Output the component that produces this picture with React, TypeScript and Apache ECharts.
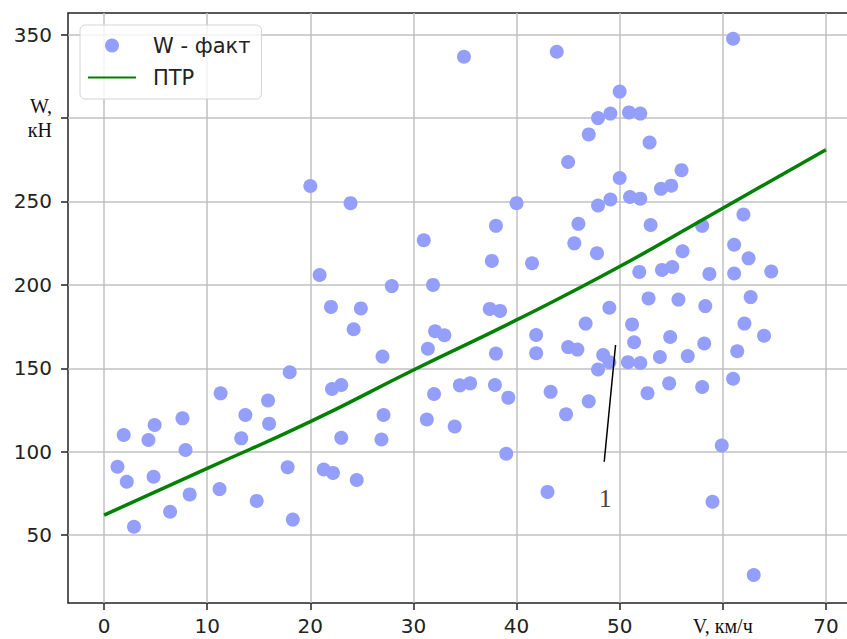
import React, { useEffect, useRef } from 'react';
import * as echarts from 'echarts';

// Speed V, km/h (measured points)
const vFact = [
  1.3, 1.9, 2.2, 2.9, 4.3, 4.9, 4.8, 6.4, 7.6, 7.9, 8.3, 11.3, 11.2, 13.3, 13.7, 14.8,
  15.9, 16.0, 17.8, 18.0, 18.3, 20.0, 20.9, 21.3, 22.2, 22.0, 22.1, 23.0, 23.0, 23.9,
  24.2, 24.5, 24.9, 27.0, 27.1, 26.9, 27.9, 31.0, 31.4, 31.3, 31.9, 32.1, 32.0, 33.0,
  34.0, 34.5, 34.9, 35.5, 37.4, 37.6, 37.9, 38.0, 38.0, 38.4, 39.0, 39.2, 40.0, 41.5,
  41.9, 41.9, 43.0, 43.3, 43.9, 44.8, 45.0, 45.0, 45.6, 45.9, 46.0, 46.7, 47.0, 47.0,
  47.8, 47.9, 47.9, 47.9, 48.4, 49.0, 49.1, 49.1, 49.0, 50.0, 50.0, 50.9, 51.0, 51.2,
  51.4, 50.8, 52.0, 51.9, 52.0, 52.0, 52.7, 52.8, 52.9, 53.0, 53.9, 54.0, 54.1, 54.9,
  54.8, 55.0, 55.1, 55.7, 56.0, 56.1, 56.6, 58.0, 58.0, 58.2, 58.3, 58.7, 59.0, 59.9,
  61.0, 61.0, 61.1, 61.1, 61.4, 62.0, 62.1, 62.5, 62.7, 63.0, 64.0, 64.7,
];
// Resistance W, kN (measured points)
const wFact = [
  91, 110, 82, 55, 107, 116, 85, 64, 120, 101, 74.4, 135, 77.6, 108, 122, 70.5,
  130.7, 116.8, 90.7, 147.6, 59.3, 259.3, 205.9, 89.3, 87.3, 186.8, 137.6, 140, 108.3, 249,
  173.4, 83, 185.9, 157, 122, 107.3, 199.3, 226.8, 161.7, 119.3, 200, 172.2, 134.6, 169.8,
  115.1, 139.8, 336.8, 141, 185.6, 214.4, 140, 235.4, 158.8, 184.4, 98.8, 132.4, 249, 213,
  170, 159, 75.9, 135.9, 339.8, 122.4, 273.7, 162.7, 224.9, 161.2, 236.6, 176.8, 130.2, 290.2,
  219, 300, 247.6, 149.3, 158, 186.3, 302.7, 251.2, 153.7, 315.9, 264.1, 303.4, 252.7, 176.3,
  165.6, 153.7, 302.7, 207.8, 251.7, 153.2, 135.1, 191.9, 285.4, 235.9, 156.8, 257.6, 209, 168.8,
  141, 259.5, 210.7, 191.2, 268.8, 220.2, 157.3, 138.8, 235.4, 164.9, 187.3, 206.6, 70, 103.7,
  347.6, 143.7, 206.8, 224.1, 160.2, 242.2, 176.8, 215.9, 192.7, 26.1, 169.5, 208,
];

// ПТР curve
const vLine = [0, 10, 20, 30, 40, 50, 60, 70];
const wLine = [62, 90, 118, 149, 179, 211, 246, 281];

const xTicks = [0, 10, 20, 30, 40, 50, 60, 70];
const yTicks = [50, 100, 150, 200, 250, 300, 350];

const xAxisName = 'V, км/ч';
const yAxisName = ['W,', 'кН'];
const legendFact = 'W - факт';
const legendLine = 'ПТР';

// leader line "1"
const pointerV = [48.5, 49.6];
const pointerW = [94, 164];
const pointerLabel = '1';
const pointerLabelAt = [48.6, 71.7];

export default function App() {
  const ref = useRef<HTMLDivElement>(null);

  useEffect(() => {
    if (!ref.current) return;
    const chart = echarts.init(ref.current, undefined, { renderer: 'svg' });
    const tickFont = 'DejaVu Sans';
    const serif = 'Liberation Serif';
    const option: any = {
      animation: false,
      backgroundColor: '#ffffff',
      grid: {
        left: 68,
        top: 13,
        width: 794,
        height: 590,
        show: true,
        borderColor: '#222',
        borderWidth: 1.5,
        backgroundColor: 'transparent',
      },
      xAxis: {
        type: 'value',
        min: -3.5,
        max: 73.5,
        axisLine: { show: false, onZero: false },
        axisTick: {
          show: true,
          customValues: xTicks,
          length: 7,
          lineStyle: { color: '#222', width: 1.5 },
        },
        axisLabel: {
          customValues: xTicks,
          margin: 13,
          fontSize: 20,
          color: '#222',
          fontFamily: tickFont,
          formatter: (v: number) => (v === 60 ? '{s|' + xAxisName + '}' : String(v)),
          rich: { s: { fontFamily: serif, fontSize: 20, color: '#111' } },
        },
        splitLine: { show: true, lineStyle: { color: '#c0c0c0', width: 1.5 } },
      },
      yAxis: {
        type: 'value',
        min: 9.3,
        max: 363,
        axisLine: { show: false, onZero: false },
        axisTick: {
          show: true,
          customValues: yTicks,
          length: 7,
          lineStyle: { color: '#222', width: 1.5 },
        },
        axisLabel: {
          customValues: yTicks,
          margin: 16,
          fontSize: 20,
          color: '#222',
          fontFamily: tickFont,
          formatter: (v: number) =>
            v === 300 ? '{s|' + yAxisName.join('\n') + '}' : String(v),
          rich: { s: { fontFamily: serif, fontSize: 20, lineHeight: 24, color: '#111', align: 'right' } },
        },
        splitLine: { show: true, lineStyle: { color: '#c0c0c0', width: 1.5 } },
      },
      legend: {
        left: 80,
        top: 25,
        orient: 'vertical',
        padding: [10, 11, 11, 7],
        itemWidth: 48,
        itemHeight: 14,
        itemGap: 11,
        backgroundColor: 'rgba(255,255,255,0.8)',
        borderColor: '#d4d4d4',
        borderWidth: 1,
        borderRadius: 5,
        textStyle: {
          fontSize: 21,
          lineHeight: 20,
          fontFamily: tickFont,
          color: '#222',
          padding: [0, 0, 0, 12],
        },
        data: [
          { name: legendFact, icon: 'circle' },
          { name: legendLine, itemStyle: { opacity: 0 } },
        ],
      },
      series: [
        {
          name: legendFact,
          type: 'scatter',
          data: vFact.map((v, i) => [v, wFact[i]]),
          symbolSize: 14,
          itemStyle: { color: '#939ffb', opacity: 1 },
          z: 3,
        },
        {
          name: legendLine,
          type: 'line',
          data: vLine.map((v, i) => [v, wLine[i]]),
          smooth: true,
          symbol: 'none',
          lineStyle: { color: '#008000', width: 3.5 },
          itemStyle: { color: '#008000' },
          z: 4,
        },
        {
          type: 'line',
          data: pointerV.map((v, i) => [v, pointerW[i]]),
          symbol: 'none',
          silent: true,
          lineStyle: { color: '#000', width: 1.5 },
          z: 5,
        },
        {
          type: 'scatter',
          data: [pointerLabelAt],
          symbolSize: 1,
          silent: true,
          itemStyle: { color: 'rgba(0,0,0,0)' },
          label: {
            show: true,
            position: 'inside',
            formatter: pointerLabel,
            fontFamily: serif,
            fontSize: 26,
            color: '#111',
          },
          z: 5,
        },
      ],
    };
    chart.setOption(option);
    return () => chart.dispose();
  }, []);

  return (
    <div
      style={{
        position: 'fixed',
        left: 0,
        top: 0,
        width: 847,
        height: 639,
        overflow: 'hidden',
        background: '#fff',
      }}
    >
      <div ref={ref} style={{ width: 880, height: 639 }} />
    </div>
  );
}
